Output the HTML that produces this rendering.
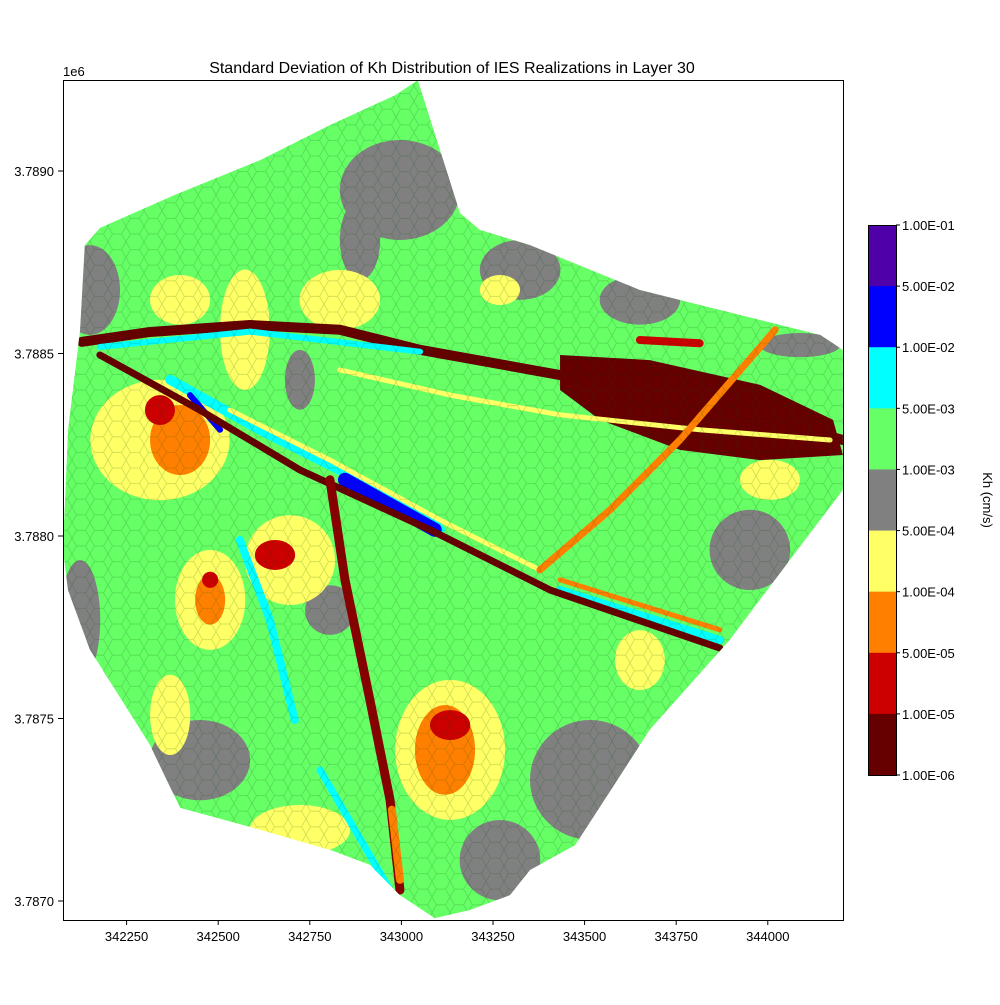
<!DOCTYPE html>
<html><head><meta charset="utf-8"><style>
body{margin:0;background:#fff;}
svg{font-family:"Liberation Sans","DejaVu Sans",sans-serif;}
</style></head><body>
<svg id="chart" width="1000" height="1000" viewBox="0 0 1000 1000" xmlns="http://www.w3.org/2000/svg">
<defs>
<pattern id="hex" width="18" height="15.6" patternUnits="userSpaceOnUse">
<path d="M0,7.8 L4.5,0 L13.5,0 L18,7.8 L13.5,15.6 L4.5,15.6 Z" fill="none" stroke="rgba(0,70,0,0.22)" stroke-width="0.7"/>
</pattern>
<clipPath id="dom"><path id="domPath"/></clipPath>
</defs>
<text x="452" y="73" text-anchor="middle" font-size="16">Standard Deviation of Kh Distribution of IES Realizations in Layer 30</text>
<g id="map" clip-path="url(#dom)"></g>
<rect x="63.5" y="80.5" width="780" height="840" fill="none" stroke="#000" stroke-width="1"/>
<g id="axes"></g>
<text x="63" y="76" font-size="13">1e6</text>
<g id="cbar"></g>
<text transform="translate(983,500) rotate(90)" text-anchor="middle" font-size="13">Kh (cm/s)</text>
</svg>
<script>
// offsets (m) from base easting 342174 / northing 3787000
const baseE=342174, baseN=3787000;
const xTicks=[342250,342500,342750,343000,343250,343500,343750,344000];
const yTicks=[3789000,3788500,3788000,3787500,3787000];
const yTickLabels=["3.7890","3.7885","3.7880","3.7875","3.7870"];
const cbarColors=["#5000a8","#0000ff","#00ffff","#66ff66","#808080","#ffff66","#ff8000","#cc0000","#660000"];
const cbarLabels=["1.00E-01","5.00E-02","1.00E-02","5.00E-03","1.00E-03","5.00E-04","1.00E-04","5.00E-05","1.00E-05","1.00E-06"];
const domain=[[-38,1797],[3,1844],[208,1935],[440,2030],[631,2126],[809,2208],[871,2249],[986,1885],[1040,1839],[1177,1797],[1477,1674],[1805,1592],[1969,1551],[2031,1510],[2031,1126],[1886,934],[1722,715],[1504,469],[1300,153],[1177,85],[1122,16],[1013,-25],[917,-47],[822,16],[740,99],[631,140],[440,195],[222,255],[140,427],[-24,688],[-84,852],[-98,962],[-84,1291],[-51,1565]];
const grayBlobs=[[-24,1674,82,123],[822,1948,164,137],[1150,1729,110,82],[1477,1647,110,68],[1914,1523,110,33],[1341,332,164,164],[276,386,137,110],[-51,770,55,164],[631,797,68,68],[713,1811,55,110],[1095,112,110,110],[1777,962,110,110],[549,1428,41,82]];
const yellowBlobs=[[167,1263,190,165],[399,1565,68,165],[658,1647,110,82],[222,1647,82,68],[522,934,123,123],[304,825,96,137],[959,414,150,192],[1832,1154,82,55],[1477,660,68,82],[195,510,55,110],[549,195,137,68],[1095,1674,55,41]];
const orangeBlobs=[[222,1263,82,96],[304,825,41,68],[945,414,82,123]];
const redBlobs=[[481,948,55,41],[167,1345,41,41],[959,482,55,41],[304,880,22,22]];
const darkBlob=[[1259,1496],[1504,1482],[1805,1414],[2004,1318],[2031,1222],[1805,1208],[1586,1236],[1368,1318],[1259,1400]];
const lines=[
 {name:"darkred-band-north",c:"#660000",w:10,p:[[-46,1532],[140,1559],[413,1578],[658,1565],[877,1510],[1259,1441],[1640,1373],[2031,1263]]},
 {name:"cyan-band-north",c:"#00ffff",w:6,p:[[3,1518],[413,1560],[877,1505]]},
 {name:"cyan-band-diag",c:"#00ffff",w:10,p:[[195,1428],[440,1291],[658,1181],[904,1044],[931,1017]]},
 {name:"blue-seg-main",c:"#0000ff",w:14,p:[[672,1154],[917,1017]]},
 {name:"blue-seg-west",c:"#0000ff",w:6,p:[[249,1386],[331,1291]]},
 {name:"cyan-band-east",c:"#00ffff",w:8,p:[[1259,852],[1695,715]]},
 {name:"orange-line-east",c:"#ff8000",w:5,p:[[1259,880],[1695,743]]},
 {name:"darkred-diag",c:"#660000",w:7,p:[[3,1496],[276,1345],[549,1181],[904,1017],[1232,852],[1695,693]]},
 {name:"yellow-line-north",c:"#ffff66",w:5,p:[[658,1455],[959,1386],[1259,1332],[1640,1291],[1996,1263]]},
 {name:"yellow-line-diag",c:"#ffff66",w:5,p:[[358,1345],[631,1208],[931,1044],[1204,907]]},
 {name:"orange-diag",c:"#ff8000",w:7,p:[[1204,907],[1395,1071],[1586,1263],[1846,1565]]},
 {name:"cyan-line-south-west",c:"#00ffff",w:8,p:[[385,989],[467,770],[535,496]]},
 {name:"cyan-line-south",c:"#00ffff",w:7,p:[[604,359],[795,30]]},
 {name:"darkred-vertical",c:"#880000",w:9,p:[[631,1154],[672,880],[740,551],[795,277],[822,30]]},
 {name:"orange-vertical-end",c:"#ff8000",w:8,p:[[800,250],[822,58]]},
 {name:"red-bar-north",c:"#cc0000",w:8,p:[[1477,1537],[1640,1528]]}
];
const NS="http://www.w3.org/2000/svg";
const xA=E=>126.6+(E-342250)/250*91.6;
const yA=N=>171+(3789000-N)/500*182.5;
const xS=e=>xA(baseE+e);
const yS=n=>yA(baseN+n);
const map=document.getElementById('map');
function mk(t,a,parent){const el=document.createElementNS(NS,t);for(const k in a)el.setAttribute(k,a[k]);parent.appendChild(el);return el;}
const dPts=domain.map(p=>xS(p[0]).toFixed(1)+","+yS(p[1]).toFixed(1)).join(" ");
document.getElementById('domPath').setAttribute('d',"M"+dPts.replace(/ /g," L")+"Z");
let el=mk('polygon',{points:dPts,fill:'#66ff66'},map);


function blobs(arr,color,nm){arr.forEach(b=>{const e=mk('ellipse',{cx:xS(b[0]),cy:yS(b[1]),rx:b[2]/2.729,ry:b[3]/2.74,fill:color},map);

});}
blobs(grayBlobs,'#808080','gray-zone');
blobs(yellowBlobs,'#ffff66','yellow-zone');
blobs(orangeBlobs,'#ff8000','orange-zone');
blobs(redBlobs,'#cc0000','red-zone');
el=mk('polygon',{points:darkBlob.map(p=>xS(p[0])+","+yS(p[1])).join(" "),fill:'#660000'},map);


lines.forEach(l=>{const e=mk('polyline',{points:l.p.map(p=>xS(p[0])+","+yS(p[1])).join(" "),fill:'none',stroke:l.c,'stroke-width':l.w,'stroke-linecap':'round','stroke-linejoin':'round'},map);

});
el=mk('rect',{x:0,y:0,width:1000,height:1000,fill:'url(#hex)'},map);


const axes=document.getElementById('axes');
xTicks.forEach(t=>{const x=xA(t);
const l=mk('line',{x1:x,x2:x,y1:920,y2:925,stroke:'#000'},axes);


const tx=mk('text',{x:x,y:941,'text-anchor':'middle','font-size':'13'},axes);tx.textContent=t;

});
yTicks.forEach((t,i)=>{const y=yA(t);
const l=mk('line',{x1:58,x2:63,y1:y,y2:y,stroke:'#000'},axes);


const tx=mk('text',{x:54,y:y+5,'text-anchor':'end','font-size':'13'},axes);tx.textContent=yTickLabels[i];

});
const cb=document.getElementById('cbar');const cbTop=225,bh=550/cbarColors.length;
cbarColors.forEach((c,i)=>{const r=mk('rect',{x:868,y:cbTop+i*bh,width:28,height:bh+0.5,fill:c},cb);

});
mk('rect',{x:868.5,y:225.5,width:28,height:550,fill:'none',stroke:'#000'},cb);
cbarLabels.forEach((s,i)=>{const y=cbTop+i*bh;
mk('line',{x1:896,x2:900,y1:y,y2:y,stroke:'#000'},cb);
const tx=mk('text',{x:902,y:y+5,'font-size':'13'},cb);tx.textContent=s;

});
</script>
</body></html>
